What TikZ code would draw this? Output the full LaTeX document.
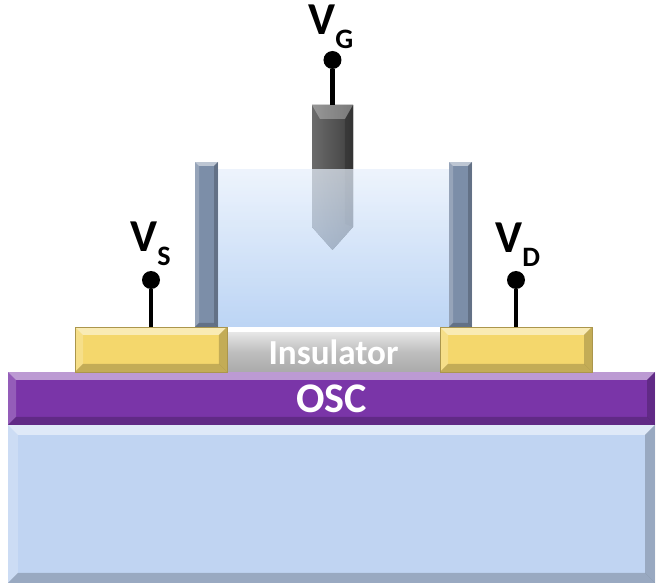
\documentclass[tikz,border=0pt]{standalone}
\usepackage{fontspec}
\setmainfont{Carlito}

\definecolor{substr}{HTML}{C0D4F2}
\definecolor{osc}{HTML}{7A35A8}
\definecolor{gold}{HTML}{F4D76C}
\definecolor{insul}{HTML}{BDBDBD}
\definecolor{wall}{HTML}{7C8EA8}
\definecolor{liqtop}{HTML}{E6EFFB}
\definecolor{liqbot}{HTML}{A2C4F0}

% light top/left and dark bottom/right edges of a box
\newcommand{\bevelbox}[1]{%
  \coordinate (nw) at (path picture bounding box.north west);
  \coordinate (ne) at (path picture bounding box.north east);
  \coordinate (sw) at (path picture bounding box.south west);
  \coordinate (se) at (path picture bounding box.south east);
  \fill[white,opacity=0.5] (nw) -- (ne) -- ([shift={(-#1,-#1)}]ne) -- ([shift={(#1,-#1)}]nw) -- cycle;
  \fill[white,opacity=0.2] (nw) -- ([shift={(#1,-#1)}]nw) -- ([shift={(#1,#1)}]sw) -- (sw) -- cycle;
  \fill[black,opacity=0.2] (sw) -- (se) -- ([shift={(-#1,#1)}]se) -- ([shift={(#1,#1)}]sw) -- cycle;
  \fill[black,opacity=0.2] (ne) -- ([shift={(-#1,-#1)}]ne) -- ([shift={(-#1,#1)}]se) -- (se) -- cycle;
}

\tikzstyle{layer}=[rectangle,inner sep=0pt,anchor=center]
\tikzstyle{contact}=[layer,fill=gold,draw=gold!70!black,thin,minimum width=3.04cm,minimum height=0.9cm,path picture={\bevelbox{0.16cm}}]
\tikzstyle{pared}=[layer,fill=wall,minimum width=0.46cm,minimum height=3.3cm,path picture={\bevelbox{0.08cm}}]
\tikzstyle{terminal}=[circle,fill=black,inner sep=0pt,minimum size=0.36cm]
\tikzstyle{cable}=[black,line width=2.3pt]
\tikzstyle{volt}=[inner sep=0pt,anchor=base west,font=\fontsize{26}{26}\selectfont\bfseries]

\begin{document}
\begin{tikzpicture}
		\useasboundingbox (0,0) rectangle (13.12,11.68);

		\node (sub) at (6.63,1.6) [layer,fill=substr,minimum width=12.94cm,minimum height=3.16cm,path picture={\bevelbox{0.2cm}}] {};
		\node (osc) at (6.63,3.71) [layer,fill=osc,minimum width=12.94cm,minimum height=1.06cm,path picture={\bevelbox{0.16cm}}] {\color{white}\fontsize{24}{24}\selectfont\bfseries OSC};

		\node (ins) at (6.67,4.63) [layer,top color=insul!40!white,bottom color=insul!90!black,middle color=insul,minimum width=4.26cm,minimum height=0.78cm] {\color{white}\fontsize{20}{20}\selectfont\bfseries Insulator};
		\node (src) at (3.02,4.69) [contact] {};
		\node (drn) at (10.32,4.69) [contact] {};

		% gate electrode, partly dipped in the electrolyte
		\fill[left color=black!58,middle color=black!48,right color=black!75] (6.24,9.58) -- (7.06,9.58) -- (7.06,7.14) -- (6.65,6.68) -- (6.24,7.14) -- cycle;
		\fill[white,opacity=0.3] (6.24,9.58) -- (7.06,9.58) -- (6.9,9.3) -- (6.4,9.3) -- cycle;
		\fill[black,opacity=0.2] (6.9,9.3) -- (7.06,9.58) -- (7.06,7.14) -- (6.9,7.2) -- cycle;
		\coordinate (gtop) at (6.65,9.58);

		\node (liq) at (6.67,6.71) [layer,top color=liqtop,bottom color=liqbot,fill opacity=0.72,minimum width=4.62cm,minimum height=3.14cm] {};
		\node (wl) at (4.13,6.79) [pared] {};
		\node (wr) at (9.21,6.79) [pared] {};

		\node (ds) at (3.02,6.08) [terminal] {};
		\node (dd) at (10.32,6.08) [terminal] {};
		\node (dg) at (6.65,10.48) [terminal] {};

		\draw[cable] (ds) -- (src);
		\draw[cable] (dd) -- (drn);
		\draw[cable] (dg) -- (gtop);

		\node (vs) at (2.6,6.64) [volt] {V{\fontsize{16}{16}\selectfont\raisebox{-7.4pt}{S}}};
		\node (vd) at (9.9,6.62) [volt] {V{\fontsize{16}{16}\selectfont\raisebox{-7.4pt}{D}}};
		\node (vg) at (6.16,10.98) [volt] {V{\fontsize{16}{16}\selectfont\raisebox{-7.4pt}{G}}};

\end{tikzpicture}
\end{document}
